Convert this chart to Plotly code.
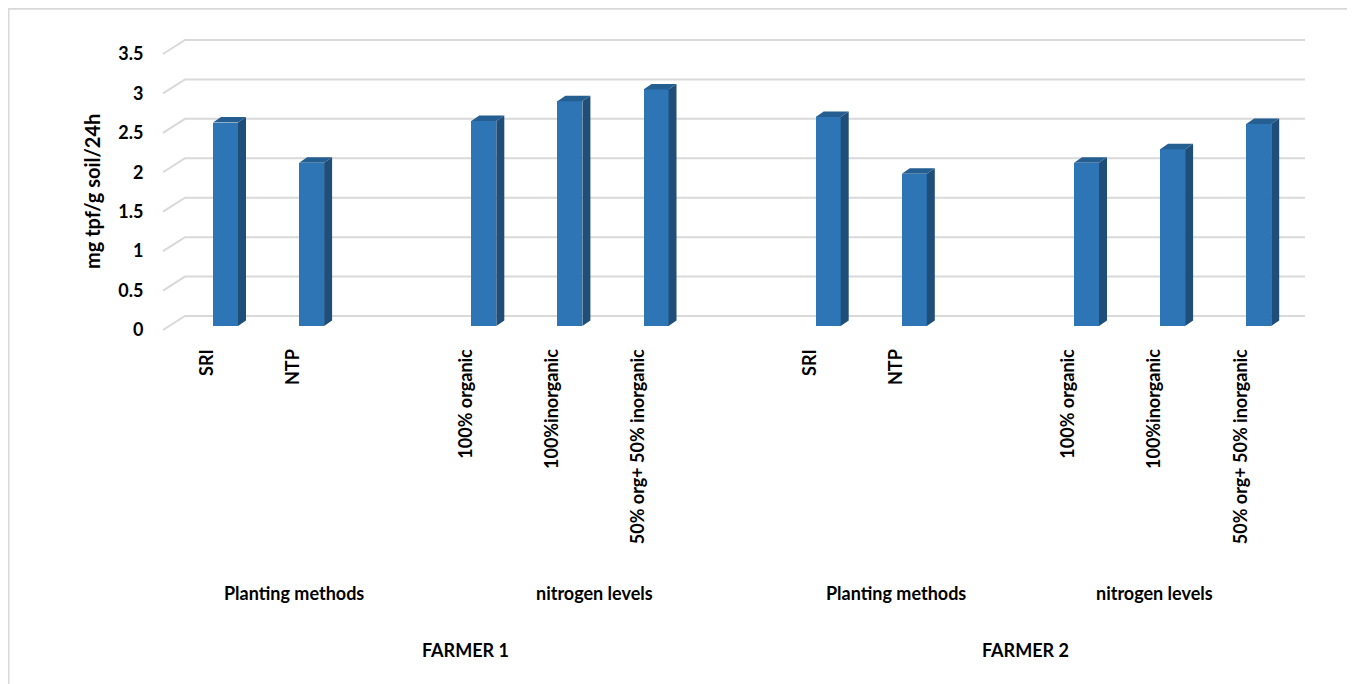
import plotly.graph_objects as go

# ---------------- data ----------------
categories = ["SRI", "NTP", "", "100% organic", "100%inorganic", "50% org+ 50% inorganic", "",
              "SRI", "NTP", "", "100% organic", "100%inorganic", "50% org+ 50% inorganic"]
values = [2.58, 2.07, None, 2.60, 2.85, 3.00, None,
          2.65, 1.93, None, 2.07, 2.24, 2.56]
group_labels = ["Planting methods", "nitrogen levels", "Planting methods", "nitrogen levels"]
group_spans = [(0, 2), (3, 6), (7, 9), (10, 12)]
farmer_labels = ["FARMER 1", "FARMER 2"]
farmer_spans = [(0, 6), (7, 12)]
y_ticks = [0, 0.5, 1, 1.5, 2, 2.5, 3, 3.5]
y_tick_text = ["0", "0.5", "1", "1.5", "2", "2.5", "3", "3.5"]
y_title = "mg tpf/g soil/24h"

# ---------------- geometry / style ----------------
W, H = 1355, 684
BODY = 8                                     # default page margin around the plot div
PL, PR, PT, PB = 150, 1320, 30, 340          # plot area in window pixels
X0_PX, X_STEP = 225.5, 86.1                  # pixel of category 0 bar centre, px per category
Y0_PX, Y_STEP = 326.0, 78.86                 # pixel of value 0 (bar front plane), px per unit
xmin = (PL - X0_PX) / X_STEP
xmax = (PR - X0_PX) / X_STEP
ymax = (Y0_PX - PT) / Y_STEP
ymin = (Y0_PX - PB) / Y_STEP

def px_x(dx):
    return dx / X_STEP

def px_y(dy):
    return dy / Y_STEP

def paper_x(px):
    return (px - PL) / (PR - PL)

def paper_y(py):
    return (PB - py) / (PB - PT)

FONT = "Lato"
FRONT = "#2E75B6"
SIDE = "#1F4E79"
TOP = "#255E91"
GRID = "#D9D9D9"

bar_w = px_x(25)
side_dx = px_x(8)
side_dy = px_y(5.5)
label_shift = px_x(-18)

fig = go.Figure()

# bars: front faces
xs = list(range(len(categories)))
fig.add_trace(go.Bar(x=xs, y=values, width=bar_w, marker=dict(color=FRONT, line=dict(width=0)),
                     showlegend=False))

# side and top faces
sx, sy, tx, ty = [], [], [], []
for i, v in zip(xs, values):
    if v is None:
        continue
    xl, xr = i - bar_w / 2, i + bar_w / 2
    sx += [xr, xr + side_dx, xr + side_dx, xr, xr, None]
    sy += [0, side_dy, v + side_dy, v, 0, None]
    tx += [xl, xr, xr + side_dx, xl + side_dx, xl, None]
    ty += [v, v, v + side_dy, v + side_dy, v, None]
fig.add_trace(go.Scatter(x=sx, y=sy, mode="lines", fill="toself", fillcolor=SIDE,
                         line=dict(width=0, color=SIDE), hoverinfo="skip", showlegend=False))
fig.add_trace(go.Scatter(x=tx, y=ty, mode="lines", fill="toself", fillcolor=TOP,
                         line=dict(width=0, color=TOP), hoverinfo="skip", showlegend=False))

# back-wall gridlines with the 3D left-side slant (drawn below the bars)
back_dx_left = px_x(185 - X0_PX)
back_dx_right = px_x(1305 - X0_PX)
front_dx_left = px_x(163 - X0_PX)
back_dy = px_y(10)
front_dy = px_y(-4)
shapes = []
for v in y_ticks:
    path = "M {},{} L {},{} L {},{}".format(front_dx_left, v + front_dy,
                                            back_dx_left, v + back_dy,
                                            back_dx_right, v + back_dy)
    shapes.append(dict(type="path", xref="x", yref="y", path=path,
                       line=dict(color=GRID, width=2), layer="below"))

# chart border
shapes.append(dict(type="rect", xref="paper", yref="paper",
                   x0=paper_x(BODY + 0.5), x1=paper_x(W + 20),
                   y0=paper_y(H + 20), y1=paper_y(BODY + 0.8),
                   line=dict(color=GRID, width=2), fillcolor="rgba(0,0,0,0)", layer="below"))

# axis tick labels
tick_pos = [i + label_shift for i, c in zip(xs, categories) if c]
tick_txt = [c for c in categories if c]

bold = dict(family=FONT, size=18, color="#000000", weight="bold")
annotations = []
for lab, (a, b) in zip(group_labels, group_spans):
    annotations.append(dict(x=(a + b) / 2 + label_shift, xref="x",
                            y=paper_y(593), yref="paper",
                            text=lab, showarrow=False, xanchor="center", yanchor="middle",
                            font=bold))
for lab, (a, b) in zip(farmer_labels, farmer_spans):
    annotations.append(dict(x=(a + b) / 2 + label_shift, xref="x",
                            y=paper_y(650), yref="paper",
                            text=lab, showarrow=False, xanchor="center", yanchor="middle",
                            font=bold))
annotations.append(dict(x=paper_x(92), xref="paper",
                        y=paper_y(192), yref="paper",
                        text=y_title, textangle=-90, showarrow=False,
                        xanchor="center", yanchor="middle",
                        font=dict(family=FONT, size=20, color="#000000", weight="bold")))

fig.update_layout(
    width=W - BODY, height=H - BODY,
    margin=dict(l=PL - BODY, r=W - PR, t=PT - BODY, b=H - PB, pad=0),
    paper_bgcolor="white", plot_bgcolor="white",
    bargap=0, showlegend=False,
    font=dict(family=FONT, color="#000000"),
    xaxis=dict(range=[xmin, xmax], showgrid=False, zeroline=False, showline=False,
               tickmode="array", tickvals=tick_pos, ticktext=tick_txt, tickangle=-90,
               ticks="outside", ticklen=1, tickcolor="rgba(0,0,0,0)",
               tickfont=bold),
    yaxis=dict(range=[ymin, ymax], showgrid=False, zeroline=False, showline=False,
               tickmode="array", tickvals=[v + front_dy for v in y_ticks], ticktext=y_tick_text,
               ticks="outside", ticklen=2, tickcolor="rgba(0,0,0,0)",
               tickfont=bold),
    annotations=annotations,
    shapes=shapes,
)

fig.write_html("out.html")
